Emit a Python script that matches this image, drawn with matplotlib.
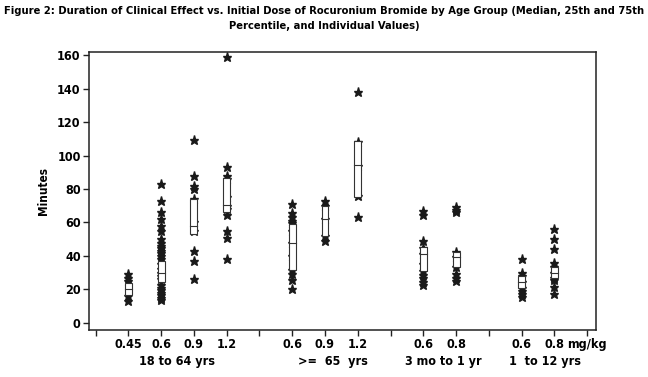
import numpy as np
import matplotlib
matplotlib.use("Agg")
import matplotlib.pyplot as plt
from matplotlib.patches import Rectangle
import matplotlib.transforms as mtransforms

# condensed bold lettering as in the source figure
plt.rcParams['font.family'] = ['DejaVu Sans']
plt.rcParams['font.stretch'] = 'condensed'
plt.rcParams['font.weight'] = 'bold'

# age groups and doses (mg/kg)
groups = ['18 to 64 yrs', '>=  65  yrs', '3 mo to 1 yr', '1  to 12 yrs']
doses = [['0.45', '0.6', '0.9', '1.2'],
         ['0.6', '0.9', '1.2'],
         ['0.6', '0.8'],
         ['0.6', '0.8']]

# individual values (minutes), one list per dose, in plotting order
values = [
    [29, 27, 25, 16, 13],
    [83, 73, 66, 62, 58, 55, 50, 48, 46, 44.5, 43, 41.5, 40, 38,
     35, 32, 30, 28, 26, 22.5, 21, 19.5, 18, 16.5, 15, 14],
    [109, 88, 82, 80, 74, 60, 55, 43, 37, 26],
    [159, 93, 88, 86, 75, 70, 68, 64.5, 55, 50.5, 38],
    [71, 65.5, 63, 61, 59.5, 55, 48, 40, 31.5, 29.5, 25.5, 20.5],
    [73, 70, 62, 52, 49],
    [138, 108, 94, 76, 63.5],
    [67, 64.5, 48.7, 45, 41, 35, 31, 28.7, 26.7, 24.7, 22.7],
    [69.5, 67.5, 66, 42.5, 39.5, 33.5, 29, 27, 25.3],
    [38, 30, 28, 24.5, 21, 19, 17, 15.7],
    [56, 50, 44.4, 35.6, 33.5, 30, 27, 25.7, 21.3, 17],
]
# 25th percentile, median, 75th percentile
q1 = [16.7, 24.7, 53.1, 66.1, 31.6, 52.1, 75.4, 31.0, 33.2, 21.1, 26.7]
med = [20.4, 29.7, 57.9, 70.4, 47.8, 61.9, 94.1, 41.0, 39.6, 24.3, 30.0]
q3 = [24.0, 37.0, 73.8, 86.4, 59.1, 70.0, 108.5, 45.6, 42.6, 28.1, 33.6]

# x layout: a blank slot separates each age group
pos = []
tick_pos = [0]
tick_lab = ['']
group_centers = []
p = 0
for g, ds in enumerate(doses):
    gp = []
    for d in ds:
        p += 1
        gp.append(p)
        tick_pos.append(p)
        tick_lab.append(d)
    pos += gp
    group_centers.append(np.mean(gp))
    p += 1
    tick_pos.append(p)
    tick_lab.append('')
tick_lab[-1] = 'mg/kg'
label_shift = [0, 0.25, 0.1, 0.2]  # group captions sit a bit off centre

fig = plt.figure(figsize=(6.48, 3.77), dpi=100)
ax = fig.add_axes([0.1373, 0.1247, 0.7825, 0.7373])

bw = 0.21
for i, x in enumerate(pos):
    ax.plot([x] * len(values[i]), values[i], ls='none', marker='*',
            color='#1a1a1a', markersize=6.5, zorder=2)
    ax.add_patch(Rectangle((x - bw / 2, q1[i]), bw, q3[i] - q1[i],
                           facecolor='white', edgecolor='#333333',
                           linewidth=0.8, zorder=3))
    ax.plot([x - bw / 2, x + bw / 2], [med[i], med[i]], color='#333333',
            linewidth=0.8, zorder=4)

ax.set_xlim(-0.2, 15.27)
ax.set_ylim(-4.2, 161.8)
ax.set_yticks(range(0, 161, 20))
ax.set_xticks(tick_pos)
ax.set_xticklabels(tick_lab, fontsize=9, fontweight='bold')
for lab in ax.get_yticklabels():
    lab.set_fontsize(9)
    lab.set_fontweight('bold')
ax.tick_params(direction='out', length=4, width=1, color='#222222', pad=2)
for s in ax.spines.values():
    s.set_linewidth(1.1)
    s.set_color('#222222')

ax.set_ylabel('Minutes', fontsize=8.5, fontweight='bold', labelpad=5)

trans = mtransforms.blended_transform_factory(ax.transData, fig.transFigure)
for g, c in enumerate(group_centers):
    ax.text(c + label_shift[g], 1 - 361 / 377, groups[g], transform=trans,
            ha='center', va='center', fontsize=9, fontweight='bold')

fig.text(0.5, 1 - 18.5 / 377,
         'Figure 2: Duration of Clinical Effect vs. Initial Dose of Rocuronium Bromide by Age Group (Median, 25th and 75th\n'
         'Percentile, and Individual Values)',
         ha='center', va='center', fontsize=8.0, fontweight='bold', linespacing=1.6)

fig.savefig('out.png', dpi=100)
